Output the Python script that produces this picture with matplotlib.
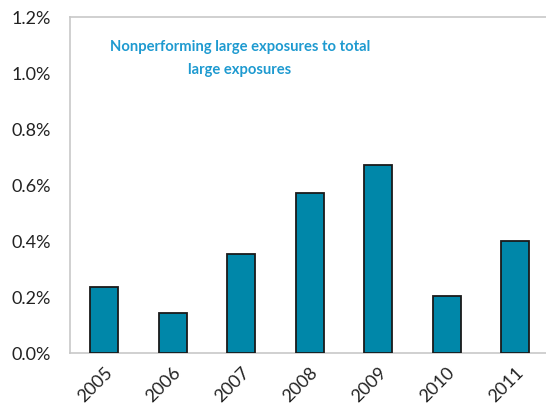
import matplotlib
matplotlib.use('Agg')
import matplotlib.pyplot as plt
from matplotlib.ticker import FuncFormatter

years = ["2005", "2006", "2007", "2008", "2009", "2010", "2011"]
npl_share = [0.236, 0.144, 0.352, 0.572, 0.671, 0.204, 0.399]

plt.rcParams['font.family'] = ['Lato', 'DejaVu Sans']

fig = plt.figure(figsize=(5.46, 4.17), dpi=100)
ax = fig.add_axes([70 / 546, 1 - 353 / 417, 476 / 546, 336 / 417])

x = range(len(years))
ax.bar(x, npl_share, width=0.41, color='#0087A9', edgecolor='#1a1a1a', linewidth=1.3, zorder=3)

ax.set_xlim(-0.5, 6.45)
ax.set_ylim(0, 1.2)
ax.set_yticks([0, 0.2, 0.4, 0.6, 0.8, 1.0, 1.2])
ax.yaxis.set_major_formatter(FuncFormatter(lambda v, p: f"{v:.1f}%"))
ax.set_xticks(list(x))
ax.set_xticklabels(years, rotation=45, ha='right', rotation_mode='anchor')

ax.tick_params(axis='both', length=0, labelsize=13, colors='#222222')
ax.tick_params(axis='y', pad=14)
ax.tick_params(axis='x', pad=8)

for s in ['left', 'top', 'bottom']:
    ax.spines[s].set_color('#c8c8c8')
    ax.spines[s].set_linewidth(1.2)
ax.spines['right'].set_visible(False)

ax.text(0.357, 0.876, "Nonperforming large exposures to total\nlarge exposures",
        transform=ax.transAxes, ha='center', va='center', fontsize=10.6,
        fontweight='bold', color='#1E9AD0', linespacing=1.8)

fig.savefig('out.png', dpi=100)
